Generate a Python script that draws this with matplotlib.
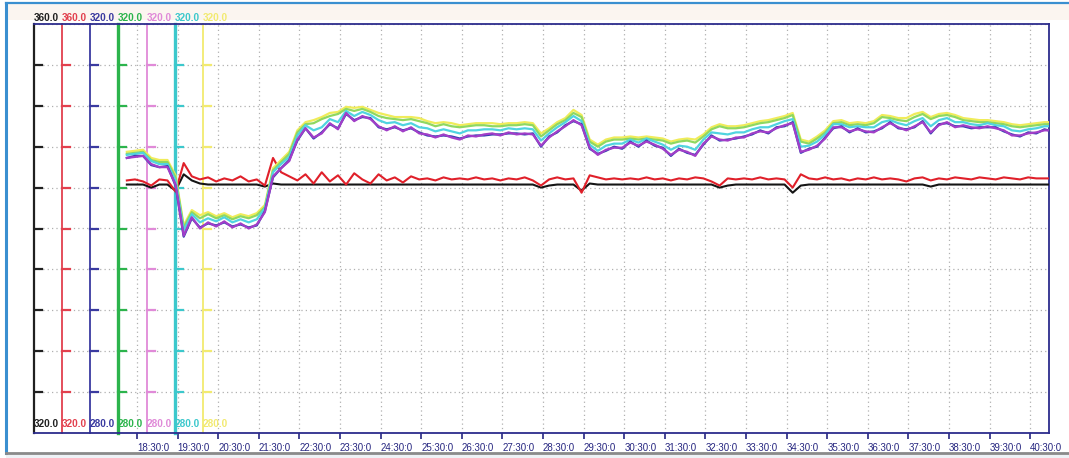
import matplotlib.pyplot as plt
import numpy as np
from matplotlib.lines import Line2D

plt.rcParams['font.family'] = ['Liberation Sans', 'DejaVu Sans']

# samples every 12 s, first one 15 s before the 18:30:0 tick
t_start = -15
t_step = 12

tick_labels = ['%d:30:0' % h for h in range(18, 41)]

# black / red pens use the 320..360 scale
black = [344.3, 344.3, 344.3, 344.0, 344.3, 344.3, 343.7, 345.3, 344.7, 344.4,
         344.3, 344.3, 344.3, 344.3, 344.3, 344.3, 344.3, 344.1, 344.4, 344.3,
         344.3, 344.3, 344.3, 344.3, 344.3, 344.3, 344.3, 344.3, 344.3, 344.3,
         344.3, 344.3, 344.3, 344.3, 344.3, 344.3, 344.3, 344.3, 344.3, 344.3,
         344.3, 344.3, 344.3, 344.3, 344.3, 344.3, 344.3, 344.3, 344.3, 344.3,
         344.3, 344.0, 344.2, 344.3, 344.3, 344.3, 343.7, 344.4, 344.3, 344.3,
         344.3, 344.3, 344.3, 344.3, 344.3, 344.3, 344.3, 344.3, 344.3, 344.3,
         344.3, 344.3, 344.3, 344.0, 344.2, 344.3, 344.3, 344.3, 344.3, 344.3,
         344.3, 344.3, 343.5, 344.2, 344.3, 344.3, 344.3, 344.3, 344.3, 344.3,
         344.3, 344.3, 344.3, 344.3, 344.3, 344.3, 344.3, 344.3, 344.3, 344.1,
         344.3, 344.3, 344.3, 344.3, 344.3, 344.3, 344.3, 344.3, 344.3, 344.3,
         344.3, 344.3, 344.3, 344.3, 344.3]
red = [344.7, 344.8, 344.6, 344.2, 344.8, 344.7, 343.6, 346.4, 345.1, 344.8,
       345.0, 344.6, 344.9, 344.7, 345.1, 344.6, 344.8, 344.2, 346.9, 345.5,
       345.1, 344.7, 345.3, 344.4, 345.5, 344.6, 345.2, 344.3, 345.4, 344.8,
       344.4, 345.3, 344.7, 345.0, 344.5, 345.1, 344.8, 344.9, 344.7, 345.0,
       344.8, 344.9, 344.8, 345.0, 344.8, 344.9, 344.7, 344.9, 344.8, 345.0,
       344.7, 344.2, 344.8, 345.0, 344.8, 344.9, 343.5, 345.2, 345.0, 344.8,
       344.9, 344.8, 344.9, 344.8, 345.0, 344.8, 344.9, 344.7, 344.9, 344.8,
       345.0, 344.9, 344.6, 344.2, 344.9, 344.8, 344.9, 344.8, 345.0, 344.8,
       344.9, 344.8, 344.0, 345.3, 344.9, 344.8, 345.0, 344.8, 344.9, 344.7,
       344.9, 344.8, 345.0, 344.8, 344.9, 344.8, 344.6, 344.9, 345.0, 344.7,
       344.9, 344.8, 345.0, 344.9, 344.8, 345.0, 344.9, 344.8, 345.0, 344.9,
       344.8, 345.0, 344.9, 344.9, 344.9]

# the other five pens use the 280..320 scale
blue = [306.9, 307.1, 307.1, 306.2, 306.0, 306.1, 304.2, 299.2, 301.0, 300.1,
        300.5, 300.3, 300.6, 300.2, 300.4, 300.1, 300.3, 301.7, 305.0, 305.9,
        306.7, 308.6, 309.8, 308.8, 309.4, 310.2, 309.8, 311.2, 310.6, 310.9,
        310.8, 309.9, 309.7, 309.9, 309.6, 309.8, 309.4, 309.1, 309.0, 309.1,
        309.0, 308.8, 309.0, 309.1, 309.1, 309.2, 309.2, 309.3, 309.3, 309.2,
        309.3, 308.0, 309.0, 309.4, 310.1, 310.5, 310.2, 307.8, 307.3, 307.6,
        308.0, 307.8, 308.5, 308.0, 308.6, 308.1, 307.9, 307.1, 307.8, 307.4,
        307.2, 308.2, 309.1, 308.6, 308.7, 308.8, 309.0, 309.2, 309.6, 309.3,
        309.9, 310.0, 310.4, 307.4, 307.8, 308.0, 308.9, 309.8, 310.0, 309.4,
        309.8, 309.4, 309.5, 309.8, 310.4, 309.8, 309.7, 309.9, 310.5, 309.3,
        310.2, 310.3, 310.0, 310.0, 309.8, 309.9, 309.9, 309.9, 309.5, 309.2,
        309.0, 309.4, 309.3, 309.7, 309.5]
green = [307.3, 307.4, 307.5, 306.7, 306.5, 306.5, 305.0, 300.1, 301.6, 301.0,
         301.4, 301.0, 301.3, 300.9, 301.2, 301.0, 301.3, 302.1, 305.7, 306.5,
         307.3, 309.4, 310.2, 310.3, 310.7, 311.0, 311.2, 311.7, 311.5, 311.7,
         311.4, 311.0, 310.8, 310.7, 310.6, 310.7, 310.5, 310.3, 310.0, 310.2,
         310.0, 309.9, 310.0, 310.1, 310.1, 310.0, 310.0, 310.1, 310.1, 310.2,
         310.1, 309.0, 309.6, 310.2, 310.6, 311.3, 310.9, 308.5, 308.0, 308.5,
         308.7, 308.7, 308.8, 308.7, 308.8, 308.7, 308.6, 308.3, 308.5, 308.6,
         308.4, 309.0, 309.7, 310.0, 309.8, 309.8, 309.9, 310.1, 310.3, 310.4,
         310.6, 310.8, 311.1, 308.5, 308.3, 308.8, 309.4, 310.3, 310.4, 310.1,
         310.2, 310.1, 310.3, 310.9, 310.8, 310.6, 310.5, 310.9, 311.2, 310.7,
         311.0, 311.1, 310.9, 310.6, 310.5, 310.4, 310.4, 310.3, 310.2, 310.0,
         309.9, 310.0, 310.1, 310.2, 310.2]
magenta = [306.9, 307.0, 307.1, 306.3, 306.0, 306.0, 304.3, 299.3, 301.1, 300.0,
           300.6, 300.2, 300.7, 300.1, 300.5, 300.0, 300.4, 301.6, 305.1, 305.9,
           306.6, 308.7, 309.8, 308.9, 309.3, 310.3, 309.7, 311.3, 310.5, 311.0,
           310.7, 310.0, 309.6, 310.0, 309.5, 309.9, 309.3, 309.2, 308.9, 309.2,
           308.9, 308.7, 309.1, 309.0, 309.2, 309.3, 309.1, 309.4, 309.2, 309.3,
           309.2, 308.1, 308.9, 309.5, 310.0, 310.6, 310.1, 307.9, 307.2, 307.7,
           307.9, 307.9, 308.4, 308.1, 308.5, 308.2, 307.8, 307.2, 307.7, 307.5,
           307.1, 308.3, 309.0, 308.7, 308.6, 308.9, 308.9, 309.3, 309.5, 309.4,
           309.8, 310.1, 310.3, 307.5, 307.7, 308.1, 308.8, 309.9, 309.9, 309.5,
           309.7, 309.5, 309.4, 309.9, 310.3, 309.9, 309.6, 310.0, 310.4, 309.4,
           310.1, 310.4, 309.9, 310.1, 309.9, 309.8, 310.0, 309.8, 309.6, 309.1,
           309.1, 309.3, 309.4, 309.6, 309.6]
cyan = [307.2, 307.3, 307.4, 306.6, 306.3, 306.3, 304.7, 299.8, 301.4, 300.6,
        301.0, 300.7, 301.1, 300.6, 300.9, 300.6, 300.9, 302.0, 305.5, 306.3,
        307.0, 309.1, 310.1, 309.6, 309.9, 310.7, 310.4, 311.5, 311.0, 311.4,
        311.1, 310.6, 310.3, 310.4, 310.1, 310.3, 309.9, 309.8, 309.5, 309.7,
        309.5, 309.3, 309.6, 309.6, 309.7, 309.7, 309.6, 309.8, 309.7, 309.8,
        309.7, 308.6, 309.3, 309.9, 310.4, 311.0, 310.5, 308.2, 307.6, 308.1,
        308.3, 308.3, 308.7, 308.4, 308.8, 308.5, 308.2, 307.7, 308.1, 308.0,
        307.7, 308.7, 309.4, 309.3, 309.2, 309.4, 309.4, 309.7, 309.9, 309.9,
        310.2, 310.5, 310.7, 308.0, 308.1, 308.5, 309.2, 310.2, 310.2, 309.9,
        310.0, 309.9, 309.9, 310.4, 310.6, 310.3, 310.1, 310.5, 310.8, 310.0,
        310.6, 310.8, 310.4, 310.4, 310.2, 310.1, 310.3, 310.1, 310.0, 309.6,
        309.5, 309.7, 309.8, 310.0, 310.0]
yellow = [307.5, 307.6, 307.7, 306.9, 306.7, 306.7, 305.2, 300.3, 301.8, 301.3,
          301.6, 301.2, 301.5, 301.1, 301.4, 301.2, 301.5, 302.3, 305.9, 306.7,
          307.5, 309.6, 310.4, 310.6, 310.9, 311.3, 311.4, 311.9, 311.8, 311.9,
          311.6, 311.3, 311.1, 310.9, 310.9, 310.9, 310.8, 310.5, 310.3, 310.4,
          310.3, 310.1, 310.2, 310.3, 310.3, 310.3, 310.2, 310.3, 310.3, 310.4,
          310.3, 309.3, 309.8, 310.4, 310.8, 311.6, 311.1, 308.7, 308.2, 308.7,
          308.9, 308.9, 309.0, 308.9, 309.0, 308.9, 308.8, 308.5, 308.7, 308.8,
          308.7, 309.2, 309.9, 310.2, 310.0, 310.0, 310.1, 310.3, 310.5, 310.6,
          310.8, 311.0, 311.3, 308.7, 308.5, 309.0, 309.6, 310.5, 310.6, 310.3,
          310.4, 310.3, 310.5, 311.1, 311.0, 310.8, 310.8, 311.2, 311.4, 310.9,
          311.2, 311.3, 311.1, 310.8, 310.7, 310.6, 310.6, 310.5, 310.4, 310.2,
          310.1, 310.2, 310.3, 310.4, 310.4]

pens = [
    # name, data, scale (lo, hi), axis colour, data colour
    ('black', black, (320.0, 360.0), '#202020', '#151515'),
    ('red', red, (320.0, 360.0), '#e2404e', '#e0202a'),
    ('blue', blue, (280.0, 320.0), '#3a3aa0', '#3040b0'),
    ('green', green, (280.0, 320.0), '#2cb44c', '#8fd860'),
    ('magenta', magenta, (280.0, 320.0), '#e08ad8', '#a23ec8'),
    ('cyan', cyan, (280.0, 320.0), '#3cc8cc', '#50d4e0'),
    ('yellow', yellow, (280.0, 320.0), '#f2ea70', '#f0ec5a'),
]

W, H = 1069, 458
fig = plt.figure(figsize=(W / 100, H / 100), dpi=100)
fig.patch.set_facecolor('white')

# window frame of the trend viewer
fig.add_artist(plt.Rectangle((6 / W, 1 - 20 / H), 1 - 6 / W, 17 / H,
                             transform=fig.transFigure, color='#fbf5f0', lw=0, zorder=-5))
fig.add_artist(plt.Rectangle((6 / W, 0), 1 - 6 / W, 5 / H,
                             transform=fig.transFigure, color='#eef2f6', lw=0, zorder=-5))
fig.add_artist(Line2D([6 / W, 6 / W], [5 / H, 1 - 3 / H], transform=fig.transFigure,
                      color='#3a8fd0', lw=2.2, zorder=-4))
fig.add_artist(Line2D([6 / W, 1], [1 - 3 / H, 1 - 3 / H], transform=fig.transFigure,
                      color='#3a8fd0', lw=1.6, zorder=-4))
fig.add_artist(Line2D([6 / W, 1], [5 / H, 5 / H], transform=fig.transFigure,
                      color='#8a8a8a', lw=2.0, zorder=-4))

x0, x1, y0, y1 = 34, 1049, 24, 433
ax = fig.add_axes([x0 / W, 1 - y1 / H, (x1 - x0) / W, (y1 - y0) / H])
ax.set_facecolor('white')

# one minute of time = 40.6 px, first tick (18:30:0) at x=137
px_min = 40.6
ax.set_xlim((x0 - 137) / px_min, (x1 - 137) / px_min)
ax.set_ylim(320, 360)

t = (t_start + t_step * np.arange(len(black))) / 60.0

ax2 = ax.twinx()
ax2.set_ylim(280, 320)
ax2.set_yticks([])
for s in ax2.spines.values():
    s.set_visible(False)

# draw order: yellow, green, cyan, blue, magenta on top
for name in ['yellow', 'green', 'cyan', 'blue', 'magenta']:
    p = [q for q in pens if q[0] == name][0]
    ax2.plot(t, p[1], color=p[4], lw=1.6, zorder=3)
ax.plot(t, black, color=pens[0][4], lw=1.5, zorder=3)
ax.plot(t, red, color=pens[1][4], lw=1.5, zorder=4)

# grid
ax.set_xticks(np.arange(len(tick_labels)))
ax.set_xticklabels(tick_labels, ha='left', fontsize=7, color='#262680',
                   family=['Liberation Sans Narrow', 'Liberation Sans'])
ax.set_yticks(np.linspace(320, 360, 11))
ax.tick_params(axis='y', length=0, labelleft=False)
ax.tick_params(axis='x', direction='out', length=4, width=1.2, color='#262680', pad=3)
ax.grid(True, color='#b0b0b0', linestyle=(0, (1, 2.5)), lw=0.9)
ax.set_axisbelow(True)

for side in ['top', 'bottom', 'right']:
    ax.spines[side].set_color('#2c2c8c')
    ax.spines[side].set_linewidth(1.3)
ax.spines['left'].set_color('#202020')
ax.spines['left'].set_linewidth(1.6)

# pen scales: one vertical line per pen with its range at top and bottom
axis_px = [34, 62, 90, 118, 147, 175, 203]
lws = [1.6, 1.3, 1.3, 2.4, 1.3, 2.4, 1.3]
for (name, data, scale, acol, dcol), xp, lw in zip(pens, axis_px, lws):
    fx = (xp - x0) / (x1 - x0)
    if name != 'black':
        ax.plot([fx, fx], [0, 1], transform=ax.transAxes, color=acol, lw=lw,
                zorder=2, clip_on=False)
    for k in range(1, 10):
        ax.plot([fx, fx + 8 / (x1 - x0)], [k / 10, k / 10], transform=ax.transAxes,
                color=acol, lw=1.6, zorder=2)
    ax.text(fx, 1.003, '%.1f' % scale[1], transform=ax.transAxes, ha='left',
            va='bottom', fontsize=7.2, fontweight='bold', color=acol)
    ax.text(fx, 0.01, '%.1f' % scale[0], transform=ax.transAxes, ha='left',
            va='bottom', fontsize=7.2, fontweight='bold', color=acol)

fig.savefig('out.png', dpi=100)
